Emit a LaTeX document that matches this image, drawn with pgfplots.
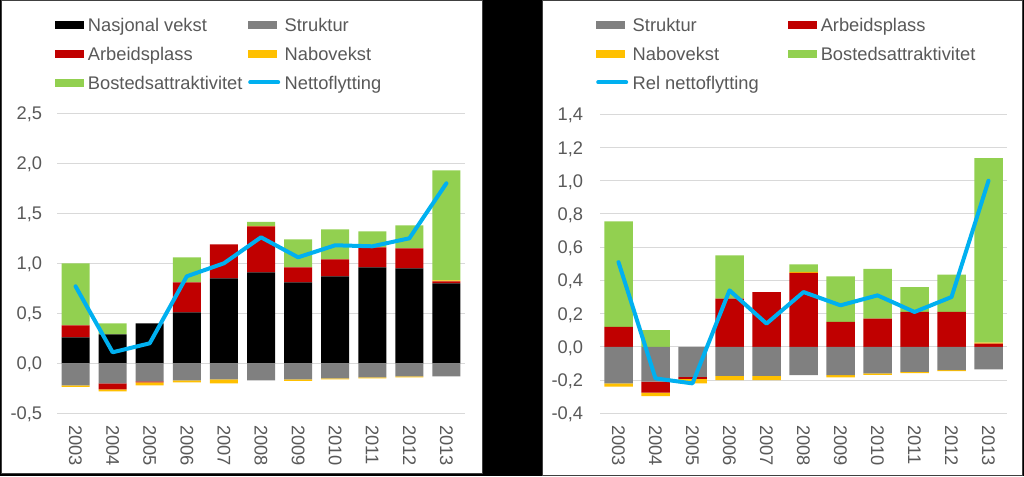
\documentclass[border=0pt]{standalone}
\usepackage{pgfplots}
\pgfplotsset{compat=1.18}
\usepackage{pgfplotstable}
\usepackage{fontspec}
\setmainfont{Liberation Sans}
\definecolor{cblack}{HTML}{000000}
\definecolor{cgray}{HTML}{808080}
\definecolor{cred}{HTML}{C00000}
\definecolor{cyellow}{HTML}{FFC000}
\definecolor{cgreen}{HTML}{92D050}
\definecolor{cblue}{HTML}{00B0F0}
\definecolor{cgrid}{HTML}{D9D9D9}
\definecolor{ctext}{HTML}{595959}
\definecolor{cborder}{HTML}{404040}
\newcommand{\tickfont}{\fontsize{18.3}{20}\selectfont}

\pgfplotstableread{
x nas str arbp arbn nabp nabn bos line
0 0.26 -0.22 0.12 0 0 -0.015 0.62 0.77
1 0.29 -0.20 0 -0.06 0 -0.02 0.11 0.11
2 0.40 -0.18 0 -0.01 0 -0.03 0 0.20
3 0.51 -0.17 0.30 0 0 -0.02 0.25 0.87
4 0.85 -0.16 0.34 0 0 -0.04 0 1.00
5 0.91 -0.17 0.46 0 0.003 0 0.04 1.26
6 0.81 -0.16 0.15 0 0 -0.015 0.28 1.06
7 0.87 -0.15 0.17 0 0 -0.01 0.30 1.18
8 0.96 -0.14 0.20 0 0 -0.01 0.16 1.17
9 0.95 -0.13 0.20 0 0 -0.01 0.23 1.25
10 0.80 -0.13 0.02 0 0.01 0 1.10 1.80
}\leftdata

\pgfplotstableread{
x str arbp arbn nabp nabn bos line
0 -0.22 0.12 0 0 -0.02 0.635 0.51
1 -0.21 0 -0.065 0 -0.022 0.10 -0.19
2 -0.18 0 -0.013 0 -0.027 0 -0.22
3 -0.175 0.29 0 0 -0.025 0.26 0.34
4 -0.175 0.33 0 0 -0.025 0 0.14
5 -0.17 0.446 0 0.005 0 0.046 0.33
6 -0.17 0.15 0 0 -0.014 0.275 0.25
7 -0.16 0.17 0 0 -0.008 0.30 0.31
8 -0.15 0.21 0 0 -0.008 0.15 0.21
9 -0.14 0.21 0 0 -0.006 0.225 0.30
10 -0.135 0.02 0 0.006 0 1.11 1.00
}\rightdata

\pgfplotsset{
  panel/.style={scale only axis, anchor=south west, xmin=-0.5, xmax=10.5},
  visible/.style={
    axis line style={draw=none}, major tick length=0pt, tick style={draw=none},
    ymajorgrids, grid style={cgrid, line width=1pt},
    xtick={0,1,2,3,4,5,6,7,8,9,10},
    xticklabels={2003,2004,2005,2006,2007,2008,2009,2010,2011,2012,2013},
    xticklabel style={rotate=-90, anchor=west, inner sep=0pt, font=\tickfont, text=ctext},
    xticklabel shift=11.7pt,
    yticklabel style={anchor=east, inner sep=0pt, font=\tickfont, text=ctext, text height=13.1pt, text depth=0pt},
    yticklabel shift=14.7pt,
    legend columns=2, legend cell align=left,
    legend style={draw=none, fill=none, inner sep=0pt, outer sep=0pt, anchor=north west,
      font=\tickfont, text=ctext, row sep=12pt,
      nodes={inner sep=0pt, text height=15.5pt, text depth=1.5pt},
      /tikz/every odd column/.append style={column sep=4.5pt}},
  },
  barleg/.style={legend image code/.code={\fill[#1] (0pt,-3.5pt) rectangle (28pt,3.5pt);}},
  lineleg/.style={legend image code/.code={\draw[cblue, line width=4pt, line cap=round] (2pt,0pt) -- (30pt,0pt);}},
}

\begin{document}
\begin{tikzpicture}
\path[use as bounding box] (0pt,0pt) rectangle (1024pt,476pt);
\fill[black] (0pt,0pt) rectangle (1024pt,476pt);
\filldraw[fill=white, draw=cborder, line width=1pt] (1pt,3pt) rectangle (482pt,475pt);
\filldraw[fill=white, draw=cborder, line width=1pt] (542pt,0.5pt) rectangle (1022.5pt,475pt);

% ---------------- left panel ----------------
\begin{axis}[panel, visible, at={(57pt,62.7pt)}, width=408pt, height=300pt,
  ymin=-0.5, ymax=2.5, ytick={-0.5,0,0.5,1,1.5,2,2.5},
  yticklabels={{-0,5},{0,0},{0,5},{1,0},{1,5},{2,0},{2,5}},
  ybar stacked, bar width=28pt,
  legend style={at={(-0.0049,1.325)}, /tikz/every even column/.append style={column sep=5.5pt}}]
\addlegendimage{barleg=cblack}\addlegendentry{Nasjonal vekst}
\addlegendimage{barleg=cgray}\addlegendentry{Struktur}
\addlegendimage{barleg=cred}\addlegendentry{Arbeidsplass}
\addlegendimage{barleg=cyellow}\addlegendentry{Nabovekst}
\addlegendimage{barleg=cgreen}\addlegendentry{Bostedsattraktivitet}
\addlegendimage{lineleg}\addlegendentry{Nettoflytting}
\addplot[fill=cblack, draw=none, forget plot] table[x=x, y=nas]{\leftdata};
\addplot[fill=cred, draw=none, forget plot] table[x=x, y=arbp]{\leftdata};
\addplot[fill=cyellow, draw=none, forget plot] table[x=x, y=nabp]{\leftdata};
\addplot[fill=cgreen, draw=none, forget plot] table[x=x, y=bos]{\leftdata};
\end{axis}
\begin{axis}[panel, hide axis, at={(57pt,62.7pt)}, width=408pt, height=300pt,
  ymin=-0.5, ymax=2.5, ybar stacked, bar width=28pt]
\addplot[fill=cgray, draw=none, forget plot] table[x=x, y=str]{\leftdata};
\addplot[fill=cred, draw=none, forget plot] table[x=x, y=arbn]{\leftdata};
\addplot[fill=cyellow, draw=none, forget plot] table[x=x, y=nabn]{\leftdata};
\end{axis}
\begin{axis}[panel, hide axis, at={(57pt,62.7pt)}, width=408pt, height=300pt,
  ymin=-0.5, ymax=2.5]
\addplot[cblue, line width=4pt, line join=round, line cap=round, no markers, forget plot] table[x=x, y=line]{\leftdata};
\end{axis}

% ---------------- right panel ----------------
\begin{axis}[panel, visible, at={(600pt,62.7pt)}, width=407pt, height=299pt,
  ymin=-0.4, ymax=1.4, ytick={-0.4,-0.2,0,0.2,0.4,0.6,0.8,1.0,1.2,1.4},
  yticklabels={{-0,4},{-0,2},{0,0},{0,2},{0,4},{0,6},{0,8},{1,0},{1,2},{1,4}},
  yticklabel shift=16.7pt,
  ybar stacked, bar width=28.5pt,
  legend style={at={(-0.0098,1.3294)}, /tikz/every even column/.append style={column sep=29pt}}]
\addlegendimage{barleg=cgray}\addlegendentry{Struktur}
\addlegendimage{barleg=cred}\addlegendentry{Arbeidsplass}
\addlegendimage{barleg=cyellow}\addlegendentry{Nabovekst}
\addlegendimage{barleg=cgreen}\addlegendentry{Bostedsattraktivitet}
\addlegendimage{lineleg}\addlegendentry{Rel nettoflytting}
\addplot[fill=cred, draw=none, forget plot] table[x=x, y=arbp]{\rightdata};
\addplot[fill=cyellow, draw=none, forget plot] table[x=x, y=nabp]{\rightdata};
\addplot[fill=cgreen, draw=none, forget plot] table[x=x, y=bos]{\rightdata};
\end{axis}
\begin{axis}[panel, hide axis, at={(600pt,62.7pt)}, width=407pt, height=299pt,
  ymin=-0.4, ymax=1.4, ybar stacked, bar width=28.5pt]
\addplot[fill=cgray, draw=none, forget plot] table[x=x, y=str]{\rightdata};
\addplot[fill=cred, draw=none, forget plot] table[x=x, y=arbn]{\rightdata};
\addplot[fill=cyellow, draw=none, forget plot] table[x=x, y=nabn]{\rightdata};
\end{axis}
\begin{axis}[panel, hide axis, at={(600pt,62.7pt)}, width=407pt, height=299pt,
  ymin=-0.4, ymax=1.4]
\addplot[cblue, line width=4pt, line join=round, line cap=round, no markers, forget plot] table[x=x, y=line]{\rightdata};
\end{axis}
\end{tikzpicture}
\end{document}
